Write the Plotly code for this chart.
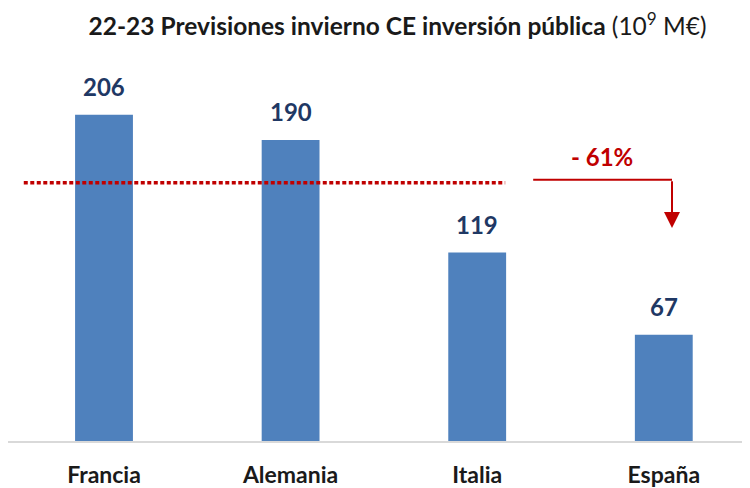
"""Bar chart: 22-23 winter forecasts EC public investment."""

import plotly.graph_objects as go

# data
COUNTRIES = ["Francia", "Alemania", "Italia", "España"]
INVESTMENT = [206, 190, 119, 67]
REF_LEVEL = 163      # red dotted reference line
ARROW_START = 165    # top of the "-61%" arrow
ARROW_END = 134.5    # arrow tip
DROP_LABEL = "- 61%"

BAR = "#4F81BD"
NAVY = "#1F3864"
RED = "#C00000"
INK = "#1A1A1A"
FONT = "Lato, 'Open Sans', sans-serif"

fig = go.Figure(
    go.Bar(
        x=list(range(len(COUNTRIES))),
        y=INVESTMENT,
        width=0.31,
        marker=dict(color=BAR, line=dict(width=0)),
        hoverinfo="skip",
    )
)

for i, v in enumerate(INVESTMENT):
    fig.add_annotation(
        x=i, y=v, text=f"<b>{v}</b>", showarrow=False,
        yanchor="bottom", yshift=12,
        font=dict(size=24, color=NAVY, family=FONT),
    )

# red dotted reference line
fig.add_shape(
    type="line", xref="x", yref="y",
    x0=-0.43, x1=2.15, y0=REF_LEVEL, y1=REF_LEVEL,
    line=dict(color=RED, width=3.5, dash="4px,2.5px"),
)

# drop arrow
fig.add_shape(
    type="line", xref="x", yref="y",
    x0=2.30, x1=3.044, y0=ARROW_START, y1=ARROW_START,
    line=dict(color=RED, width=2),
)
fig.add_annotation(
    x=3.044, y=ARROW_END, ax=3.044, ay=ARROW_START,
    xref="x", yref="y", axref="x", ayref="y",
    text="", showarrow=True, arrowhead=2, arrowsize=1.6,
    arrowwidth=2, arrowcolor=RED,
)
fig.add_annotation(
    x=2.67, y=ARROW_START + 14.5, text=f"<b>{DROP_LABEL}</b>", showarrow=False,
    font=dict(size=24, color=RED, family=FONT),
)

fig.update_xaxes(
    range=[-0.5145, 3.462],
    tickmode="array",
    tickvals=list(range(len(COUNTRIES))),
    ticktext=[f"<b>{c}</b>" for c in COUNTRIES],
    tickfont=dict(size=23, color=INK, family=FONT),
    showline=True, linecolor="#D9D9D9", linewidth=2,
    showgrid=False, zeroline=False, ticks="",
    ticklabelstandoff=12,
    automargin=False,
)
fig.update_yaxes(range=[0, 250], visible=False, showgrid=False, zeroline=False)

# page body adds an 8px offset, so the figure is 8px smaller than the window
fig.update_layout(
    width=742,
    height=480,
    paper_bgcolor="white",
    plot_bgcolor="white",
    showlegend=False,
    font=dict(family=FONT, color=INK),
    title=dict(
        text="<b>22-23 Previsiones invierno CE inversión pública</b> (10<sup>9</sup> M€)",
        x=0.525, xanchor="center", y=0.962, yanchor="middle",
        font=dict(size=24.5, color=INK, family=FONT),
    ),
    margin=dict(l=0, r=0, t=37, b=47),
)

fig.write_html("out.html")
